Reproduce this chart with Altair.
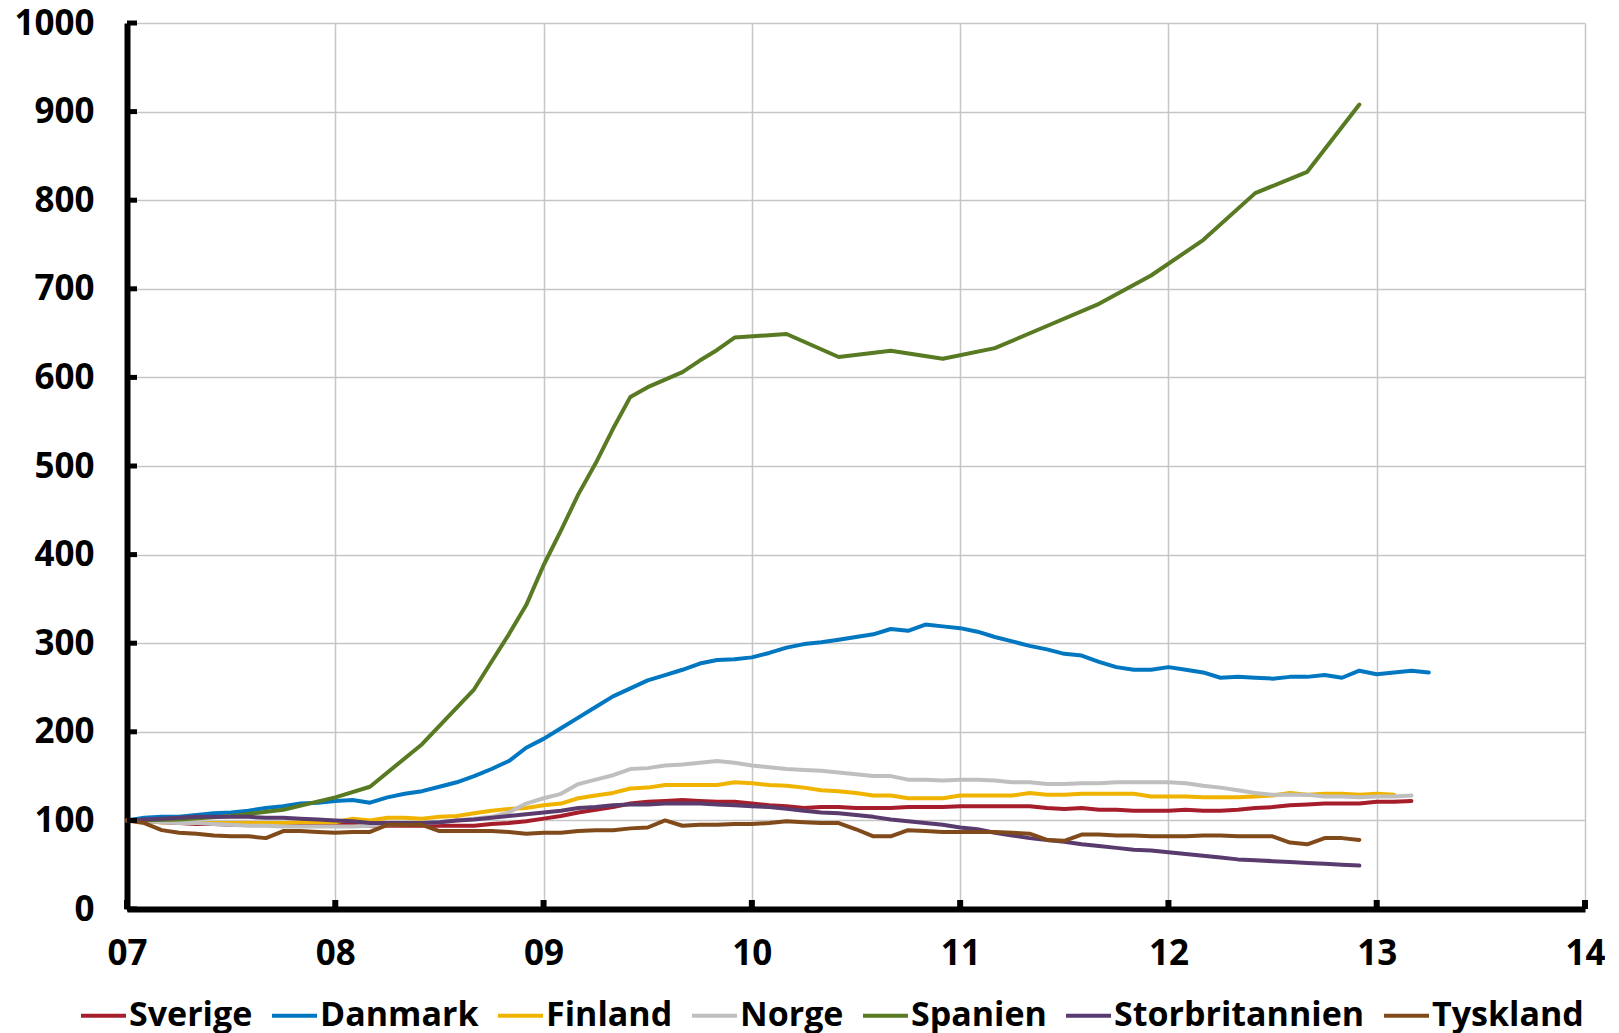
import altair as alt
import pandas as pd

series_names = ["Sverige", "Danmark", "Finland", "Norge", "Spanien", "Storbritannien", "Tyskland"]
series_colors = ["#A61E2B", "#0077C0", "#F0B400", "#BFBFBF", "#587A23", "#5A3B6E", "#804A1A"]

# monthly values, starting January 2007
sverige = [100, 99, 98, 97, 96, 96, 95, 95, 95, 96, 97, 97, 97, 96, 94, 94, 94, 94, 94, 94, 94, 96, 97, 99,
           102, 105, 109, 112, 115, 119, 121, 122, 123, 122, 121, 121, 119, 117, 116, 114, 115, 115, 114, 114,
           114, 115, 115, 115, 116, 116, 116, 116, 116, 114, 113, 114, 112, 112, 111, 111, 111, 112, 111, 111,
           112, 114, 115, 117, 118, 119, 119, 119, 121, 121, 122]
danmark = [100, 103, 104, 104, 106, 108, 109, 111, 114, 116, 119, 120, 122, 123, 120, 126, 130, 133, 138, 143,
           150, 158, 167, 182, 192, 204, 216, 228, 240, 249, 258, 264, 270, 277, 281, 282, 284, 289, 295, 299,
           301, 304, 307, 310, 316, 314, 321, 319, 317, 313, 307, 302, 297, 293, 288, 286, 279, 273, 270, 270,
           273, 270, 267, 261, 262, 261, 260, 262, 262, 264, 261, 269, 265, 267, 269, 267]
finland = [100, 99, 98, 98, 97, 97, 97, 97, 97, 97, 98, 98, 98, 102, 100, 103, 103, 102, 104, 105, 108, 111,
           113, 114, 117, 119, 125, 128, 131, 136, 137, 140, 140, 140, 140, 143, 142, 140, 139, 137, 134, 133,
           131, 128, 128, 125, 125, 125, 128, 128, 128, 128, 131, 129, 129, 130, 130, 130, 130, 127, 127, 127,
           126, 126, 126, 127, 128, 131, 129, 130, 130, 129, 130, 129]
norge = [100, 99, 98, 97, 97, 96, 95, 94, 94, 93, 93, 93, 93, 93, 94, 95, 96, 97, 98, 100, 102, 104, 109, 119,
         125, 130, 141, 146, 151, 158, 159, 162, 163, 165, 167, 165, 162, 160, 158, 157, 156, 154, 152, 150,
         150, 146, 146, 145, 146, 146, 145, 143, 143, 141, 141, 142, 142, 143, 143, 143, 143, 142, 139, 137,
         134, 131, 129, 129, 129, 127, 127, 126, 127, 127, 128]
storbritannien = [100, 101, 102, 103, 104, 104, 104, 104, 103, 103, 102, 101, 100, 99, 97, 97, 97, 97, 98, 100,
                  101, 103, 105, 107, 109, 111, 114, 115, 117, 118, 118, 119, 119, 119, 118, 117, 116, 115, 113,
                  111, 109, 108, 106, 104, 101, 99, 97, 95, 92, 90, 86, 83, 80, 78, 76, 73, 71, 69, 67, 66, 64,
                  62, 60, 58, 56, 55, 54, 53, 52, 51, 50, 49]
tyskland = [100, 97, 89, 86, 85, 83, 82, 82, 80, 88, 88, 87, 86, 87, 87, 95, 95, 95, 88, 88, 88, 88, 87, 85,
            86, 86, 88, 89, 89, 91, 92, 100, 94, 95, 95, 96, 96, 97, 99, 98, 97, 97, 90, 82, 82, 89, 88, 87, 87,
            87, 87, 86, 85, 78, 77, 84, 84, 83, 83, 82, 82, 82, 83, 83, 82, 82, 82, 75, 73, 80, 80, 78]

# Spanien: observations at these months (0 = January 2007)
spanien_months = [0, 3, 6, 9, 12, 14, 17, 20, 21, 22, 23, 24, 25, 26, 27, 28, 29, 30, 32, 33, 34, 35, 38, 41,
                  44, 47, 50, 53, 56, 59, 62, 65, 68, 71]
spanien = [100, 101, 105, 112, 126, 138, 186, 248, 279, 310, 343, 388, 427, 468, 503, 542, 578, 589, 606, 619,
           631, 645, 649, 623, 630, 621, 633, 658, 683, 715, 755, 808, 832, 908]

year_ticks = [7, 8, 9, 10, 11, 12, 13, 14]
value_ticks = [0, 100, 200, 300, 400, 500, 600, 700, 800, 900, 1000]

monthly = {
    "Sverige": sverige, "Danmark": danmark, "Finland": finland, "Norge": norge,
    "Storbritannien": storbritannien, "Tyskland": tyskland,
}
rows = []
for name in series_names:
    if name == "Spanien":
        pairs = zip(spanien_months, spanien)
    else:
        pairs = enumerate(monthly[name])
    for m, v in pairs:
        rows.append({"serie": name, "t": 7 + m / 12, "v": v})
df = pd.DataFrame(rows)

W, H = 1458, 886
FONT = "Open Sans"

xscale = alt.Scale(domain=[7, 14], nice=False, zero=False)
yscale = alt.Scale(domain=[0, 1000], nice=False)

lines = alt.Chart(df).mark_line(strokeWidth=4, strokeJoin="round", strokeCap="round").encode(
    x=alt.X("t:Q", scale=xscale, axis=alt.Axis(
        values=year_ticks, title=None, grid=True, gridColor="#C6C6C6", gridWidth=1.5,
        domainColor="black", domainWidth=6, ticks=False, tickSize=0, labelFlush=False,
        labelFont=FONT, labelFontSize=35, labelFontWeight="bold", labelColor="black",
        labelPadding=27, labelExpr="datum.value < 10 ? '0' + datum.value : '' + datum.value")),
    y=alt.Y("v:Q", scale=yscale, axis=alt.Axis(
        values=value_ticks, title=None, grid=True, gridColor="#C6C6C6", gridWidth=1.5,
        domainColor="black", domainWidth=6, ticks=False, tickSize=0, labelFlush=False,
        format="d",
        labelFont=FONT, labelFontSize=35, labelFontWeight="bold", labelColor="black",
        labelPadding=33)),
    color=alt.Color("serie:N", sort=series_names,
                    scale=alt.Scale(domain=series_names, range=series_colors),
                    legend=alt.Legend(
                        orient="none", legendX=-48, legendY=968, direction="horizontal", columns=7,
                        title=None, symbolType="stroke", symbolSize=2025, symbolStrokeWidth=4,
                        labelFont=FONT, labelFontSize=34, labelFontWeight="bold", labelColor="black",
                        labelOffset=1, columnPadding=11, padding=0, labelLimit=500)),
)

ytick_df = pd.DataFrame({"v": value_ticks})
xtick_df = pd.DataFrame({"t": year_ticks})

yticks = alt.Chart(ytick_df).mark_rule(color="black", strokeWidth=5).encode(
    y=alt.Y("v:Q", scale=yscale), x=alt.value(0), x2=alt.value(10))
xticks = alt.Chart(xtick_df).mark_rule(color="black", strokeWidth=6).encode(
    x=alt.X("t:Q", scale=xscale), y=alt.value(H), y2=alt.value(H - 9))

chart = alt.layer(lines, yticks, xticks).properties(
    width=W, height=H,
    autosize=alt.AutoSizeParams(type="none"),
    padding={"left": 119, "top": 15, "right": 20, "bottom": 124},
).configure_view(stroke=None)

chart.save("out.html", embed_options={"renderer": "svg", "actions": False})
